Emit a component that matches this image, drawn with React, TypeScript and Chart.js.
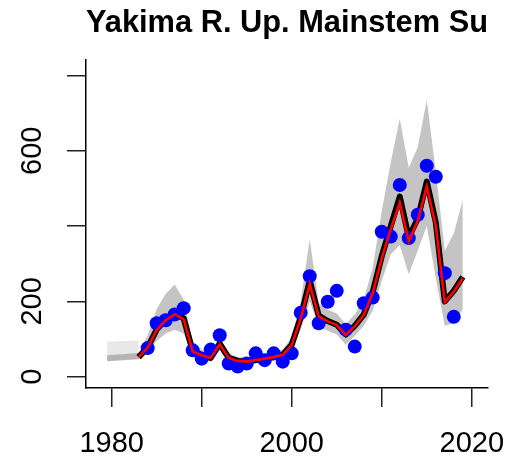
import React, { useEffect, useRef } from "react";
import { Chart, registerables } from "chart.js";

Chart.register(...registerables);

const TITLE = "Yakima R. Up. Mainstem Su";

const fitYears = [
  1983, 1984, 1985, 1986, 1987, 1988, 1989, 1990, 1991, 1992, 1993, 1994, 1995,
  1996, 1997, 1998, 1999, 2000, 2001, 2002, 2003, 2004, 2005, 2006, 2007, 2008,
  2009, 2010, 2011, 2012, 2013, 2014, 2015, 2016, 2017, 2018, 2019,
];
const fitBlack = [
  52, 78, 125, 152, 168, 155, 68, 58, 50, 88, 50, 42, 40,
  44, 48, 52, 58, 85, 158, 255, 162, 148, 138, 112, 135, 165,
  225, 320, 400, 478, 370, 420, 518, 410, 200, 228, 265,
];
const fitRed = [
  52, 77, 124, 150, 166, 152, 67, 57, 50, 86, 50, 42, 40,
  44, 48, 52, 58, 84, 155, 246, 160, 147, 137, 111, 134, 164,
  222, 315, 392, 462, 360, 414, 505, 400, 198, 226, 262,
];
const bandUpper = [
  60, 110, 180, 220, 245, 205, 90, 72, 62, 105, 62, 52, 50,
  55, 60, 65, 72, 105, 200, 365, 195, 178, 168, 140, 165, 205,
  290, 440, 570, 685, 555, 610, 735, 545, 335, 380, 470,
];
const bandLower = [
  45, 62, 95, 115, 125, 115, 52, 46, 40, 70, 40, 33, 32,
  35, 38, 42, 46, 68, 125, 200, 135, 122, 112, 85, 108, 135,
  175, 255, 325, 350, 272, 335, 400, 262, 135, 142, 180,
];

const obsYears = [
  1984, 1985, 1986, 1987, 1988, 1989, 1990, 1991, 1992, 1993, 1994, 1995,
  1996, 1997, 1998, 1999, 2000, 2001, 2002, 2003, 2004, 2005, 2006, 2007,
  2008, 2009, 2010, 2011, 2012, 2013, 2014, 2015, 2016, 2017, 2018,
];
const obsValues = [
  76, 142, 150, 165, 182, 70, 48, 72, 110, 35, 27, 35,
  62, 44, 62, 40, 62, 170, 267, 142, 199, 228, 125, 80,
  195, 210, 385, 372, 509, 368, 430, 560, 531, 275, 159,
];

const hindYears = [1979.5, 1983];
const hindLine = [49, 55];
const hindUpper = [93, 97];
const hindLower = [42, 45];

const xTickValues = [1980, 1990, 2000, 2010, 2020];
const xTickLabels = ["1980", "", "2000", "", "2020"];
const yTickValues = [0, 200, 400, 600, 800];
const yTickLabels = ["0", "200", "", "600", ""];

const pts = (xs: number[], ys: number[]) => xs.map((x, i) => ({ x, y: ys[i] }));

export default function App() {
  const ref = useRef<HTMLCanvasElement | null>(null);
  useEffect(() => {
    const canvas = ref.current;
    if (!canvas) return;
    const family = "'Liberation Sans', Arial, Helvetica, sans-serif";
    Chart.defaults.font.family = family;
    Chart.defaults.color = "#000";
    const chart = new Chart(canvas, {
      type: "line",
      data: {
        datasets: [
          {
            data: pts(fitYears, fitRed),
            borderColor: "#ff0000",
            borderWidth: 2.6,
            pointRadius: 0,
            tension: 0,
            fill: false,
            order: 0,
          },
          {
            data: pts(obsYears, obsValues),
            showLine: false,
            pointRadius: 7,
            pointBackgroundColor: "#0000ff",
            pointBorderWidth: 0,
            order: 1,
          },
          {
            data: pts(fitYears, fitBlack),
            borderColor: "#000000",
            borderWidth: 6,
            pointRadius: 0,
            tension: 0,
            fill: false,
            borderJoinStyle: "round",
            order: 2,
          },
          {
            data: pts(fitYears, bandUpper),
            borderWidth: 0,
            pointRadius: 0,
            tension: 0,
            fill: "+1",
            backgroundColor: "#c4c4c4",
            order: 3,
          },
          {
            data: pts(fitYears, bandLower),
            borderWidth: 0,
            pointRadius: 0,
            tension: 0,
            fill: false,
            order: 4,
          },
          {
            data: pts(hindYears, hindLine),
            borderColor: "#b5b5b5",
            borderWidth: 6,
            pointRadius: 0,
            tension: 0,
            fill: false,
            order: 4.5,
          },
          {
            data: pts(hindYears, hindUpper),
            borderWidth: 0,
            pointRadius: 0,
            tension: 0,
            fill: "+1",
            backgroundColor: "#e8e8e8",
            order: 5,
          },
          {
            data: pts(hindYears, hindLower),
            borderWidth: 0,
            pointRadius: 0,
            tension: 0,
            fill: false,
            order: 6,
          },
        ],
      },
      options: {
        responsive: false,
        animation: false,
        devicePixelRatio: 1,
        layout: { padding: { left: 0, right: 21, top: 0, bottom: 0 } },
        plugins: {
          legend: { display: false },
          tooltip: { enabled: false },
          title: {
            display: true,
            text: TITLE,
            fullSize: false,
            color: "#000",
            font: { size: 31, weight: "bold", family },
            padding: { top: 5, bottom: 17.8 },
          },
        },
        scales: {
          x: {
            type: "linear",
            min: 1977.15,
            max: 2021.8,
            afterFit: (s: any) => {
              s.height = 71;
              s.paddingLeft = 0;
              s.paddingRight = 0;
            },
            afterBuildTicks: (s: any) => {
              s.ticks = xTickValues.map((v) => ({ value: v }));
            },
            border: { display: true, color: "#000", width: 1.5 },
            grid: {
              drawOnChartArea: false,
              drawTicks: true,
              tickLength: 19,
              color: "#222",
              lineWidth: 1.5,
            },
            ticks: {
              autoSkip: false,
              maxRotation: 0,
              minRotation: 0,
              padding: 20,
              color: "#000",
              font: { size: 29, family },
              callback: (v: any) => {
                const i = xTickValues.indexOf(Number(v));
                return i >= 0 ? xTickLabels[i] : "";
              },
            },
          },
          y: {
            type: "linear",
            min: -30,
            max: 841,
            afterFit: (s: any) => {
              s.width = 86;
              s.paddingTop = 0;
              s.paddingBottom = 0;
            },
            afterBuildTicks: (s: any) => {
              s.ticks = yTickValues.map((v) => ({ value: v }));
            },
            border: { display: true, color: "#000", width: 1.5 },
            grid: {
              drawOnChartArea: false,
              drawTicks: true,
              tickLength: 19,
              color: "#222",
              lineWidth: 1.5,
            },
            ticks: {
              autoSkip: false,
              minRotation: 90,
              maxRotation: 90,
              crossAlign: "center",
              padding: 10,
              color: "#000",
              font: { size: 29, family },
              callback: (v: any) => {
                const i = yTickValues.indexOf(Number(v));
                return i >= 0 ? yTickLabels[i] : "";
              },
            },
          },
        },
      },
    } as any);
    return () => chart.destroy();
  }, []);
  return (
    <div style={{ position: "fixed", left: 0, top: 0, width: 509, height: 459, background: "#fff" }}>
      <canvas ref={ref} width={509} height={459} style={{ display: "block" }} />
    </div>
  );
}
